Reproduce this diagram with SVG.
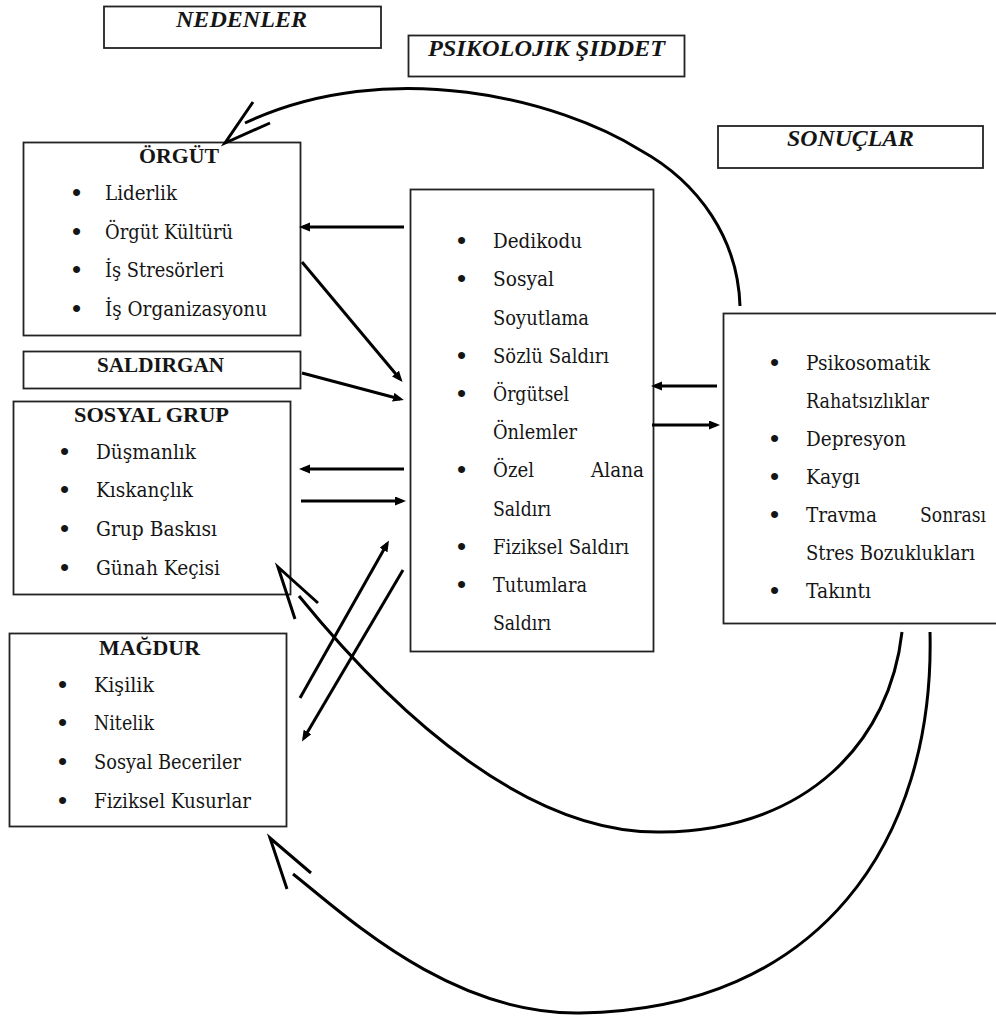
<svg xmlns="http://www.w3.org/2000/svg" width="996" height="1019" viewBox="0 0 996 1019">
<style>
.box{fill:#fff;stroke:#222;stroke-width:1.8}
.t{font-family:"DejaVu Serif","Liberation Serif",serif;font-size:20px;fill:#151515}
.b{font-family:"Liberation Serif","Times New Roman",serif;font-size:22px;font-weight:bold;fill:#151515}
.bl{font-family:"Liberation Serif","Times New Roman",serif;font-size:26px;font-weight:bold;fill:#151515}
.h{font-family:"Liberation Serif","Times New Roman",serif;font-size:24px;font-weight:bold;font-style:italic;fill:#151515}
.c{fill:none;stroke:#000;stroke-width:3}
.oh{fill:none;stroke:#000;stroke-width:3;stroke-linejoin:miter}
</style>
<defs>
<marker id="ah" markerUnits="userSpaceOnUse" markerWidth="12" markerHeight="10" refX="7" refY="4.5" orient="auto">
<path d="M0,0 L11,4.5 L0,9 z" fill="#000"/>
</marker>
</defs>
<rect width="996" height="1019" fill="#fff"/>

<g id="nedenler">
<rect class="box" x="104" y="6.5" width="277" height="41.5"/>
<text class="h" x="176" y="27" textLength="131" lengthAdjust="spacingAndGlyphs">NEDENLER</text>
</g>
<g id="psikolojik">
<rect class="box" x="408.5" y="35.5" width="276" height="41"/>
<text class="h" x="428" y="56" textLength="237" lengthAdjust="spacingAndGlyphs">PSIKOLOJIK ŞIDDET</text>
</g>
<g id="sonuclar">
<rect class="box" x="718" y="126" width="265" height="42"/>
<text class="h" x="787" y="146" textLength="127" lengthAdjust="spacingAndGlyphs">SONUÇLAR</text>
</g>

<g id="orgut">
<rect class="box" x="23.5" y="142.5" width="277" height="193"/>
<text class="b" x="139" y="163" textLength="80" lengthAdjust="spacingAndGlyphs">ÖRGÜT</text>
<text class="bl" x="72" y="201">•</text><text class="t" x="105" y="200" textLength="72" lengthAdjust="spacingAndGlyphs">Liderlik</text>
<text class="bl" x="72" y="239.5">•</text><text class="t" x="105" y="238.5" textLength="128" lengthAdjust="spacingAndGlyphs">Örgüt Kültürü</text>
<text class="bl" x="72" y="278">•</text><text class="t" x="105" y="277" textLength="119" lengthAdjust="spacingAndGlyphs">İş Stresörleri</text>
<text class="bl" x="72" y="316.5">•</text><text class="t" x="105" y="315.5" textLength="162" lengthAdjust="spacingAndGlyphs">İş Organizasyonu</text>
</g>

<g id="saldirgan">
<rect class="box" x="23.5" y="351.5" width="277" height="37"/>
<text class="b" x="97" y="372" textLength="127" lengthAdjust="spacingAndGlyphs">SALDIRGAN</text>
</g>

<g id="sosyal-grup">
<rect class="box" x="13.5" y="401.5" width="277" height="193"/>
<text class="b" x="74" y="422" textLength="155" lengthAdjust="spacingAndGlyphs">SOSYAL GRUP</text>
<text class="bl" x="60" y="460">•</text><text class="t" x="96" y="459" textLength="100" lengthAdjust="spacingAndGlyphs">Düşmanlık</text>
<text class="bl" x="60" y="498">•</text><text class="t" x="96" y="497" textLength="97" lengthAdjust="spacingAndGlyphs">Kıskançlık</text>
<text class="bl" x="60" y="537">•</text><text class="t" x="96" y="536" textLength="121" lengthAdjust="spacingAndGlyphs">Grup Baskısı</text>
<text class="bl" x="60" y="576">•</text><text class="t" x="96" y="575" textLength="124" lengthAdjust="spacingAndGlyphs">Günah Keçisi</text>
</g>

<g id="magdur">
<rect class="box" x="9.5" y="633.5" width="277" height="193"/>
<text class="b" x="99" y="655" textLength="101" lengthAdjust="spacingAndGlyphs">MAĞDUR</text>
<text class="bl" x="58" y="692.5">•</text><text class="t" x="94" y="691.5" textLength="60" lengthAdjust="spacingAndGlyphs">Kişilik</text>
<text class="bl" x="58" y="730.5">•</text><text class="t" x="94" y="729.5" textLength="60" lengthAdjust="spacingAndGlyphs">Nitelik</text>
<text class="bl" x="58" y="770">•</text><text class="t" x="94" y="769" textLength="147" lengthAdjust="spacingAndGlyphs">Sosyal Beceriler</text>
<text class="bl" x="58" y="809">•</text><text class="t" x="94" y="808" textLength="157" lengthAdjust="spacingAndGlyphs">Fiziksel Kusurlar</text>
</g>

<g id="psikolojik-siddet-turleri">
<rect class="box" x="410.5" y="189.5" width="243" height="462"/>
<text class="bl" x="457" y="249">•</text><text class="t" x="493" y="248" textLength="89" lengthAdjust="spacingAndGlyphs">Dedikodu</text>
<text class="bl" x="457" y="287">•</text><text class="t" x="493" y="286" textLength="61" lengthAdjust="spacingAndGlyphs">Sosyal</text>
<text class="t" x="493" y="324.5" textLength="96" lengthAdjust="spacingAndGlyphs">Soyutlama</text>
<text class="bl" x="457" y="363.5">•</text><text class="t" x="493" y="362.5" textLength="116" lengthAdjust="spacingAndGlyphs">Sözlü Saldırı</text>
<text class="bl" x="457" y="402">•</text><text class="t" x="493" y="401" textLength="76" lengthAdjust="spacingAndGlyphs">Örgütsel</text>
<text class="t" x="493" y="439" textLength="84" lengthAdjust="spacingAndGlyphs">Önlemler</text>
<text class="bl" x="457" y="478">•</text><text class="t" x="493" y="477" textLength="41" lengthAdjust="spacingAndGlyphs">Özel</text><text class="t" x="591" y="477" textLength="53" lengthAdjust="spacingAndGlyphs">Alana</text>
<text class="t" x="493" y="515.5" textLength="58" lengthAdjust="spacingAndGlyphs">Saldırı</text>
<text class="bl" x="457" y="554.5">•</text><text class="t" x="493" y="553.5" textLength="136" lengthAdjust="spacingAndGlyphs">Fiziksel Saldırı</text>
<text class="bl" x="457" y="593">•</text><text class="t" x="493" y="592" textLength="94" lengthAdjust="spacingAndGlyphs">Tutumlara</text>
<text class="t" x="493" y="630" textLength="58" lengthAdjust="spacingAndGlyphs">Saldırı</text>
</g>

<g id="sonuc-listesi">
<rect class="box" x="723.5" y="313.5" width="285" height="310"/>
<text class="bl" x="770" y="370.5">•</text><text class="t" x="806" y="369.5" textLength="124" lengthAdjust="spacingAndGlyphs">Psikosomatik</text>
<text class="t" x="806" y="407.5" textLength="123" lengthAdjust="spacingAndGlyphs">Rahatsızlıklar</text>
<text class="bl" x="770" y="446.5">•</text><text class="t" x="806" y="445.5" textLength="100" lengthAdjust="spacingAndGlyphs">Depresyon</text>
<text class="bl" x="770" y="484.5">•</text><text class="t" x="806" y="483.5" textLength="54" lengthAdjust="spacingAndGlyphs">Kaygı</text>
<text class="bl" x="770" y="522.5">•</text><text class="t" x="806" y="521.5" textLength="71" lengthAdjust="spacingAndGlyphs">Travma</text><text class="t" x="920" y="521.5" textLength="66" lengthAdjust="spacingAndGlyphs">Sonrası</text>
<text class="t" x="806" y="559.5" textLength="169" lengthAdjust="spacingAndGlyphs">Stres Bozuklukları</text>
<text class="bl" x="770" y="598.5">•</text><text class="t" x="806" y="597.5" textLength="65" lengthAdjust="spacingAndGlyphs">Takıntı</text>
</g>

<g id="connectors">
<line class="c" x1="404" y1="227" x2="303" y2="227" marker-end="url(#ah)"/>
<line class="c" x1="302" y1="262" x2="400" y2="379" marker-end="url(#ah)"/>
<line class="c" x1="302" y1="373" x2="400" y2="399" marker-end="url(#ah)"/>
<line class="c" x1="404" y1="469" x2="303" y2="469" marker-end="url(#ah)"/>
<line class="c" x1="301" y1="501" x2="402" y2="501" marker-end="url(#ah)"/>
<line class="c" x1="300" y1="698" x2="387" y2="544" marker-end="url(#ah)"/>
<line class="c" x1="403" y1="570" x2="304" y2="738" marker-end="url(#ah)"/>
<line class="c" x1="717" y1="386" x2="655" y2="386" marker-end="url(#ah)"/>
<line class="c" x1="652" y1="425" x2="716" y2="425" marker-end="url(#ah)"/>

<path class="c" d="M740,306 C738,240 700,183 640,150 C560,100 390,55 245,123"/>
<polyline class="oh" points="253,102 225,143 270,123"/>

<path class="c" d="M902,632 C890,740 810,830 661,832 C530,834 400,720 299,596"/>
<polyline class="oh" points="295,619 278,567 318,603"/>

<path class="c" d="M930,632 C935,840 820,1010 580,1013 C450,1015 345,915 293,874"/>
<polyline class="oh" points="287,889 270,838 311,873"/>
</g>
</svg>
